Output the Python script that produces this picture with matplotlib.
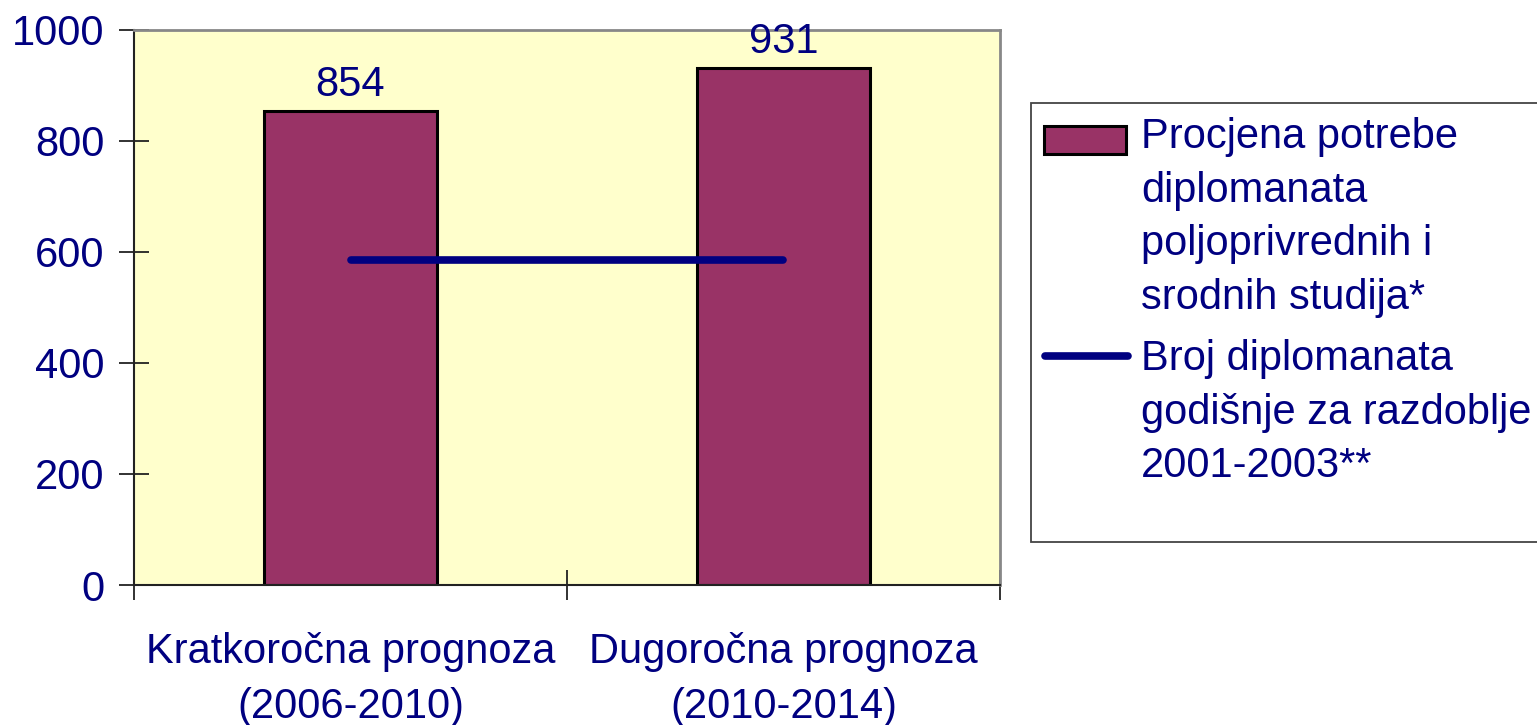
import matplotlib.pyplot as plt
import numpy as np
from matplotlib.patches import Rectangle
from matplotlib.lines import Line2D

categories = ['Kratkoročna prognoza\n(2006-2010)', 'Dugoročna prognoza\n(2010-2014)']
procjena = [854, 931]
broj_diplomanata = [585, 585]
yticks = [0, 200, 400, 600, 800, 1000]
label_bar = 'Procjena potrebe\ndiplomanata\npoljoprivrednih i\nsrodnih studija*'
label_line = 'Broj diplomanata\ngodišnje za razdoblje\n2001-2003**'

navy = '#000080'
bar_col = '#993366'

plt.rcParams['font.family'] = ['Liberation Sans', 'DejaVu Sans']

fig = plt.figure(figsize=(15.37, 7.25), dpi=100)
ax = fig.add_axes([0.0872, 0.1931, 0.5634, 0.7662])
ax.set_facecolor('#FFFFCC')

x = np.arange(len(categories))
bars = ax.bar(x, procjena, width=0.4, color=bar_col, edgecolor='black', linewidth=2.2, zorder=2)
ax.bar_label(bars, padding=4, fontsize=30, color=navy)
ax.plot(x, broj_diplomanata, color=navy, linewidth=5.5, solid_capstyle='round', zorder=3)

ax.set_xlim(-0.5, 1.5)
ax.set_ylim(0, 1000)
ax.set_yticks(yticks)
ax.tick_params(axis='y', direction='inout', length=21, width=1.3, color='#222222',
               labelsize=30, labelcolor=navy, pad=11)
ax.set_xticks(x)
ax.set_xticklabels(categories, linespacing=1.47)
ax.tick_params(axis='x', which='major', length=0, labelsize=30, labelcolor=navy, pad=34)
ax.set_xticks([-0.5, 0.5, 1.5], minor=True)
ax.tick_params(axis='x', which='minor', direction='inout', length=22, width=1.3, color='#222222')

for s in ['top', 'right']:
    ax.spines[s].set_color('#888888')
    ax.spines[s].set_linewidth(2)
for s in ['left', 'bottom']:
    ax.spines[s].set_color('#222222')
    ax.spines[s].set_linewidth(1.5)

# legend box drawn by hand so handles sit on the first line of each label
W, H = 1537.0, 725.0
fig.patches.append(Rectangle((1031 / W, 1 - 542 / H), 520 / W, 439 / H, transform=fig.transFigure,
                             facecolor='white', edgecolor='#444444', linewidth=1.3))
fig.patches.append(Rectangle((1044 / W, 1 - 154 / H), 82 / W, 28 / H, transform=fig.transFigure,
                             facecolor=bar_col, edgecolor='black', linewidth=2.2))
fig.lines.append(Line2D([1045 / W, 1128 / W], [1 - 356 / H, 1 - 356 / H], transform=fig.transFigure,
                        color=navy, linewidth=5.5, solid_capstyle='round'))
fig.text(1141 / W, 1 - 117 / H, label_bar, fontsize=30, color=navy, va='top', ha='left', linespacing=1.44)
fig.text(1141 / W, 1 - 339 / H, label_line, fontsize=30, color=navy, va='top', ha='left', linespacing=1.44)

fig.savefig('out.png', dpi=100)
